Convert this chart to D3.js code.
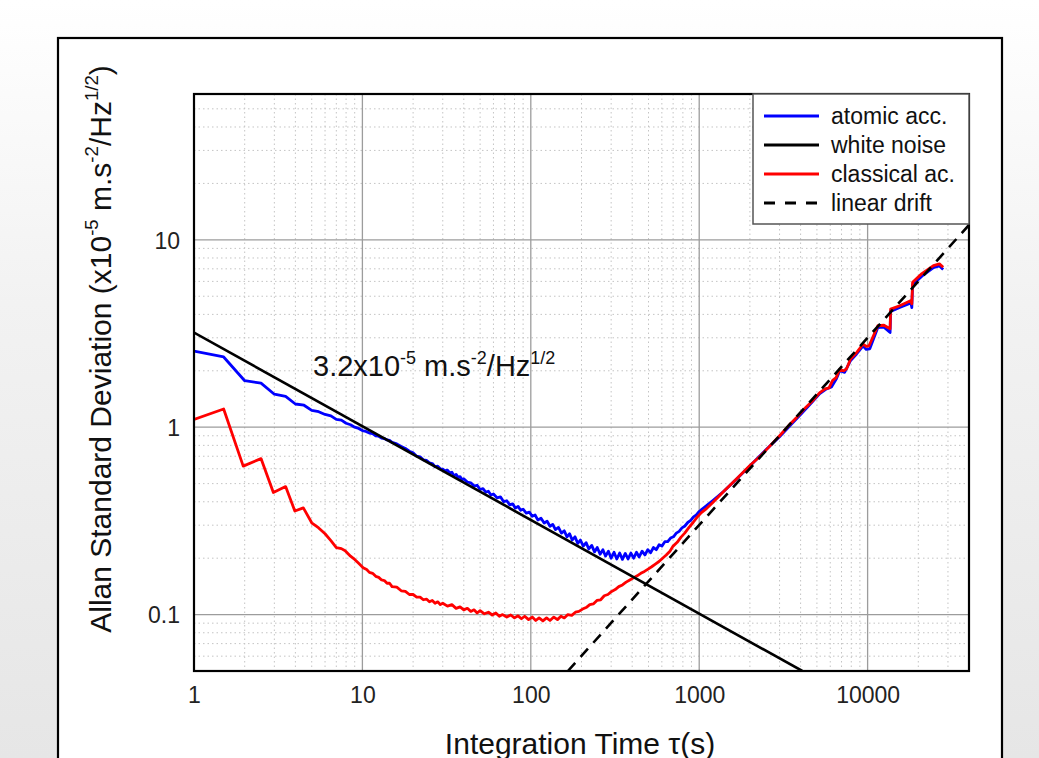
<!DOCTYPE html>
<html><head><meta charset="utf-8">
<script src="https://cdn.jsdelivr.net/npm/d3@7"></script>
<style>
html,body{margin:0;padding:0;}
body{width:1039px;height:758px;overflow:hidden;background:linear-gradient(to bottom,#ffffff 0%,#f2f2f2 40%,#e6e6e6 100%);font-family:Arial,"Liberation Sans",sans-serif;}
</style></head><body>
<script>
const xTicks = [1, 10, 100, 1000, 10000];
const yTicks = [0.1, 1, 10];
const yTickLabels = ["0.1", "1", "10"];
const seriesNames = ["atomic acc.", "white noise", "classical ac.", "linear drift"];

const atomicAcc = [[1,2.55],[1.5,2.37],[2.0,1.77],[2.5,1.72],[3.0,1.50],[3.5,1.46],[4.0,1.33],[4.5,1.31],[5.0,1.23],[5.5,1.21],[6,1.17],[6.5,1.15],[7,1.10],[7.5,1.09],[8,1.05],[8.5,1.03],[9,1.00],[9.5,0.985],[10,0.96],[10.5,0.95],[11,0.93],[11.5,0.925],[12,0.90],[12.5,0.895],[13,0.875],[13.5,0.87],[14,0.855],[14.5,0.85],[15,0.83],[16,0.815],[17,0.79],[18,0.77],[19,0.745],[20,0.73],[21,0.70],[22,0.695],[23,0.67],[24,0.665],[25,0.645],[26,0.64],[27,0.615],[28,0.62],[29,0.60],[30,0.598],[31,0.585],[32,0.59],[33,0.57],[34,0.575],[35,0.55],[36,0.56],[37,0.54],[38,0.545],[39,0.525],[40,0.53],[42,0.51],[44,0.505],[46,0.485],[48,0.49],[50,0.465],[52,0.47],[54,0.45],[56,0.455],[58,0.435],[60,0.44],[63,0.42],[66,0.425],[69,0.40],[72,0.405],[75,0.385],[78,0.39],[81,0.37],[84,0.378],[87,0.36],[90,0.365],[94,0.348],[98,0.352],[102,0.335],[106,0.34],[110,0.32],[115,0.327],[120,0.308],[125,0.315],[130,0.296],[135,0.303],[140,0.284],[146,0.292],[152,0.272],[158,0.28],[164,0.26],[170,0.27],[176,0.25],[183,0.26],[190,0.24],[197,0.25],[205,0.232],[213,0.242],[221,0.224],[230,0.234],[239,0.216],[248,0.228],[258,0.21],[268,0.222],[278,0.205],[289,0.218],[300,0.2],[312,0.215],[324,0.198],[337,0.213],[350,0.197],[364,0.212],[378,0.198],[393,0.213],[408,0.2],[424,0.215],[440,0.203],[458,0.218],[476,0.208],[495,0.222],[515,0.214],[535,0.228],[556,0.222],[578,0.236],[600,0.232],[625,0.245],[650,0.245],[676,0.256],[703,0.26],[731,0.272],[760,0.278],[790,0.29],[822,0.297],[855,0.31],[890,0.318],[925,0.332],[962,0.34],[1000,0.355],[1050,0.368],[1100,0.38],[1200,0.405],[1400,0.455],[1650,0.525],[2000,0.62],[2500,0.76],[3000,0.89],[3500,1.03],[4000,1.17],[4500,1.31],[5200,1.51],[5700,1.6],[6100,1.64],[6500,1.8],[6830,2.0],[7300,1.96],[7900,2.26],[8600,2.46],[9400,2.72],[9800,2.6],[10300,2.62],[11500,3.4],[12500,3.42],[13600,3.2],[13700,4.15],[15500,4.35],[18100,4.6],[18300,4.35],[18500,5.75],[21000,6.4],[24600,7.1],[26700,7.25],[28100,6.95]];

const classicalAcc = [[1,1.10],[1.5,1.25],[1.96,0.62],[2.5,0.68],[2.96,0.448],[3.5,0.482],[3.97,0.357],[4.46,0.371],[5.0,0.309],[5.5,0.29],[6,0.27],[6.5,0.248],[7,0.228],[7.5,0.225],[7.9,0.219],[8.5,0.205],[9.0,0.197],[9.5,0.188],[10.1,0.178],[10.6,0.174],[11,0.168],[11.5,0.166],[12,0.16],[12.5,0.158],[13,0.153],[13.5,0.152],[14,0.147],[14.5,0.147],[15,0.141],[16,0.14],[17,0.134],[18,0.133],[19,0.128],[20,0.128],[21,0.124],[22,0.124],[23,0.12],[24,0.121],[25,0.117],[26,0.119],[27,0.115],[28,0.117],[29,0.113],[30,0.115],[32,0.111],[34,0.113],[36,0.108],[38,0.11],[40,0.106],[42,0.108],[44,0.104],[46,0.106],[48,0.102],[50,0.105],[53,0.101],[56,0.103],[59,0.0995],[62,0.102],[65,0.098],[68,0.1],[72,0.097],[76,0.0995],[80,0.096],[84,0.0985],[88,0.095],[92,0.098],[97,0.094],[102,0.097],[107,0.093],[112,0.096],[118,0.0925],[124,0.096],[130,0.093],[137,0.097],[144,0.094],[151,0.098],[158,0.096],[166,0.1],[175,0.099],[184,0.103],[193,0.104],[203,0.107],[213,0.109],[224,0.113],[235,0.114],[247,0.119],[260,0.12],[273,0.126],[287,0.128],[302,0.133],[317,0.136],[333,0.141],[350,0.144],[368,0.149],[387,0.153],[407,0.157],[428,0.161],[450,0.166],[473,0.17],[497,0.175],[522,0.18],[549,0.186],[577,0.192],[606,0.2],[637,0.208],[670,0.218],[700,0.232],[740,0.243],[780,0.259],[820,0.272],[870,0.292],[920,0.31],[970,0.33],[1030,0.35],[1105,0.368],[1200,0.395],[1400,0.455],[1657,0.527],[2000,0.625],[2300,0.7],[2600,0.785],[3000,0.9],[3400,1.02],[3800,1.13],[4200,1.25],[4700,1.38],[5200,1.53],[5600,1.6],[5900,1.62],[6200,1.78],[6500,1.84],[6830,2.04],[7200,2.0],[7500,2.05],[7900,2.3],[8600,2.5],[9400,2.78],[9800,2.7],[10200,2.72],[11500,3.48],[12500,3.5],[13600,3.35],[13700,4.27],[15500,4.45],[18100,4.74],[18300,4.55],[18500,5.94],[21000,6.6],[24600,7.29],[26700,7.44],[28100,7.14]];

const whiteNoise = [[1,3.2],[4096,0.05]];
const linearDrift = [[166,0.05],[40000,12]];

const W = 1039, H = 758;
const FONT = "Arial, 'Liberation Sans', sans-serif";
const svg = d3.select("body").append("svg").attr("width", W).attr("height", H)
  .style("position","absolute").style("left",0).style("top",0)
  .attr("font-family", FONT);

// outer white frame
svg.append("rect").attr("x",58).attr("y",38).attr("width",944).attr("height",760)
  .attr("fill","#fff").attr("stroke","#000").attr("stroke-width",2.2);

const L = 194, R = 969, T = 94, B = 671;
const x = d3.scaleLog().domain([1, 40000]).range([L, R]);
const y = d3.scaleLog().domain([0.05, 60]).range([B, T]);

// grid
const g = svg.append("g");
const minorX = [], minorY = [];
for (let d = 1; d <= 10000; d *= 10) for (let k = 2; k <= 9; k++) if (d*k < 40000) minorX.push(d*k);
for (let d = 0.01; d <= 10; d *= 10) for (let k = 2; k <= 9; k++) { const v = d*k; if (v > 0.05 && v < 60) minorY.push(v); }
g.selectAll(".mx").data(minorX).enter().append("line")
  .attr("x1", d=>x(d)).attr("x2", d=>x(d)).attr("y1", T).attr("y2", B)
  .attr("stroke","#c4c4c4").attr("stroke-width",1).attr("stroke-dasharray","1.5,3");
g.selectAll(".my").data(minorY).enter().append("line")
  .attr("y1", d=>y(d)).attr("y2", d=>y(d)).attr("x1", L).attr("x2", R)
  .attr("stroke","#c4c4c4").attr("stroke-width",1).attr("stroke-dasharray","1.5,3");
g.selectAll(".Mx").data(xTicks.slice(1)).enter().append("line")
  .attr("x1", d=>x(d)).attr("x2", d=>x(d)).attr("y1", T).attr("y2", B)
  .attr("stroke","#9c9c9c").attr("stroke-width",1.3);
g.selectAll(".My").data(yTicks).enter().append("line")
  .attr("y1", d=>y(d)).attr("y2", d=>y(d)).attr("x1", L).attr("x2", R)
  .attr("stroke","#9c9c9c").attr("stroke-width",1.3);

// clip
svg.append("clipPath").attr("id","clip").append("rect")
  .attr("x",L).attr("y",T).attr("width",R-L).attr("height",B-T);
const plot = svg.append("g").attr("clip-path","url(#clip)");
const line = d3.line().x(d=>x(d[0])).y(d=>y(d[1]));

plot.append("path").datum(atomicAcc).attr("d",line).attr("fill","none")
  .attr("stroke","#0000ff").attr("stroke-width",2.8).attr("stroke-linejoin","round");
plot.append("path").datum(classicalAcc).attr("d",line).attr("fill","none")
  .attr("stroke","#ff0000").attr("stroke-width",2.8).attr("stroke-linejoin","round");
plot.append("path").datum(whiteNoise).attr("d",line).attr("fill","none")
  .attr("stroke","#000").attr("stroke-width",2.6);
plot.append("path").datum(linearDrift).attr("d",line).attr("fill","none")
  .attr("stroke","#000").attr("stroke-width",2.6).attr("stroke-dasharray","11,8");

// plot border
svg.append("rect").attr("x",L).attr("y",T).attr("width",R-L).attr("height",B-T)
  .attr("fill","none").attr("stroke","#000").attr("stroke-width",2.2);

// axes
const xAxis = svg.append("g").attr("transform",`translate(0,${B})`)
  .call(d3.axisBottom(x).tickValues(xTicks).tickSize(0).tickPadding(0).tickFormat(d3.format("d")));
xAxis.select(".domain").remove();
xAxis.selectAll("text").attr("y",32).attr("dy",0).attr("font-size",23)
  .attr("font-family",FONT).attr("fill","#222");

const yAxis = svg.append("g").attr("transform",`translate(${L},0)`)
  .call(d3.axisLeft(y).tickValues(yTicks).tickSize(0).tickPadding(0).tickFormat((d,i)=>yTickLabels[i]));
yAxis.select(".domain").remove();
yAxis.selectAll("text").attr("x",-14).attr("dy","0.36em").attr("font-size",23)
  .attr("font-family",FONT).attr("fill","#222");

// axis titles
svg.append("text").attr("x",580).attr("y",754).attr("text-anchor","middle")
  .attr("font-size",30).attr("fill","#111").text("Integration Time τ(s)");

function supText(sel, parts, size) {
  sel.attr("font-size", size);
  let raised = false;
  parts.forEach(p => {
    const ts = sel.append("tspan").text(p.t);
    if (p.sup) {
      ts.attr("font-size", size*0.62).attr("dy", raised ? 0 : -size*0.42);
      raised = true;
    } else {
      ts.attr("font-size", size);
      if (raised) { ts.attr("dy", size*0.42); raised = false; }
    }
  });
}
const yt = svg.append("text").attr("transform","translate(111,349) rotate(-90)")
  .attr("text-anchor","middle").attr("fill","#111");
supText(yt, [{t:"Allan Standard Deviation (x10"},{t:"-5",sup:1},{t:" m.s"},{t:"-2",sup:1},{t:"/Hz"},{t:"1/2",sup:1},{t:")"}], 30);

const ann = svg.append("text").attr("x",313).attr("y",376).attr("fill","#111");
supText(ann, [{t:"3.2x10"},{t:"-5",sup:1},{t:" m.s"},{t:"-2",sup:1},{t:"/Hz"},{t:"1/2",sup:1}], 29);

// legend
const lg = svg.append("g");
lg.append("rect").attr("x",753).attr("y",94).attr("width",216).attr("height",130)
  .attr("fill","#fff").attr("stroke","#555").attr("stroke-width",1.5);
const legColors = ["#0000ff","#000","#ff0000","#000"];
const legDash = [null,null,null,"11,10"];
seriesNames.forEach((name,i) => {
  const cy = 116 + i*29;
  lg.append("line").attr("x1",764).attr("x2",819).attr("y1",cy).attr("y2",cy)
    .attr("stroke",legColors[i]).attr("stroke-width",2.8).attr("stroke-dasharray",legDash[i]);
  lg.append("text").attr("x",831).attr("y",cy).attr("dy","0.35em").attr("font-size",23)
    .attr("fill","#111").text(name);
});
</script>
</body></html>
